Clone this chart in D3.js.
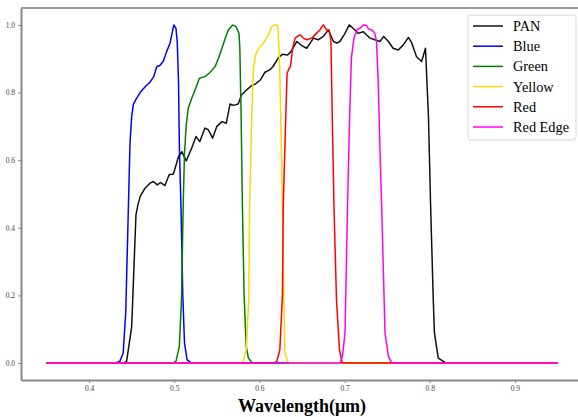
<!DOCTYPE html>
<html>
<head>
<meta charset="utf-8">
<script src="https://cdn.jsdelivr.net/npm/d3@7"></script>
<style>
  body { margin: 0; background: #fff; }
  svg { display: block; }
  .axis text { font-family: "Liberation Serif", "DejaVu Serif", serif; font-size: 7.5px; fill: #444; }
  .axis line, .axis path { stroke: #888; }
</style>
</head>
<body>
<div id="chart"></div>
<script>
// band names + colours (legend order = draw order)
const bandNames = ['PAN', 'Blue', 'Green', 'Yellow', 'Red', 'Red Edge'];
const bandColors = ['#111111', '#0000ff', '#008000', '#ffd700', '#ff0000', '#ff00ff'];

// relative spectral response, [wavelength µm, response]
const pan = [[0.35,0],[0.440,0],[0.444,0.005],[0.450,0.108],[0.455,0.438],[0.4575,0.47],[0.460,0.493],[0.4655,0.517],[0.4715,0.532],[0.4755,0.537],[0.480,0.527],[0.484,0.534],[0.489,0.525],[0.494,0.557],[0.499,0.559],[0.505,0.611],[0.509,0.625],[0.514,0.598],[0.5205,0.636],[0.5255,0.67],[0.530,0.655],[0.536,0.695],[0.540,0.69],[0.545,0.665],[0.550,0.70],[0.556,0.714],[0.561,0.709],[0.5655,0.766],[0.5695,0.762],[0.575,0.766],[0.579,0.793],[0.585,0.808],[0.591,0.821],[0.595,0.825],[0.601,0.837],[0.6065,0.860],[0.612,0.867],[0.616,0.877],[0.622,0.902],[0.627,0.913],[0.633,0.911],[0.637,0.921],[0.644,0.951],[0.6495,0.939],[0.6555,0.931],[0.6635,0.961],[0.669,0.956],[0.675,0.966],[0.681,0.985],[0.687,0.951],[0.691,0.946],[0.6945,0.951],[0.7005,0.975],[0.7055,1.0],[0.710,0.99],[0.716,0.975],[0.722,0.98],[0.726,0.970],[0.730,0.961],[0.7355,0.956],[0.7415,0.951],[0.746,0.966],[0.7515,0.951],[0.757,0.931],[0.763,0.926],[0.769,0.941],[0.775,0.963],[0.779,0.946],[0.7845,0.906],[0.7905,0.892],[0.795,0.931],[0.7985,0.73],[0.801,0.47],[0.804,0.2],[0.8055,0.09],[0.810,0.015],[0.818,0.002],[0.83,0],[0.95,0]];
const blue = [[0.35,0],[0.43,0],[0.436,0.005],[0.440,0.03],[0.443,0.15],[0.446,0.45],[0.448,0.65],[0.450,0.73],[0.452,0.765],[0.455,0.78],[0.460,0.80],[0.466,0.818],[0.472,0.832],[0.476,0.848],[0.4795,0.877],[0.483,0.88],[0.487,0.892],[0.491,0.921],[0.495,0.946],[0.4995,1.0],[0.502,0.99],[0.5035,0.95],[0.505,0.83],[0.506,0.64],[0.508,0.45],[0.510,0.2],[0.512,0.06],[0.515,0.01],[0.52,0],[0.95,0]];
const green = [[0.35,0],[0.497,0],[0.502,0.005],[0.506,0.05],[0.5085,0.19],[0.5105,0.47],[0.512,0.62],[0.514,0.704],[0.5165,0.754],[0.5205,0.783],[0.5245,0.808],[0.5295,0.842],[0.536,0.847],[0.541,0.857],[0.5455,0.87],[0.548,0.877],[0.552,0.902],[0.556,0.931],[0.56,0.961],[0.5635,0.985],[0.5685,1.0],[0.5725,0.995],[0.576,0.975],[0.577,0.931],[0.5785,0.734],[0.580,0.468],[0.582,0.2],[0.5845,0.05],[0.587,0.015],[0.591,0.002],[0.60,0],[0.95,0]];
const yellow = [[0.35,0],[0.577,0],[0.581,0.005],[0.5845,0.04],[0.5875,0.19],[0.5885,0.47],[0.591,0.734],[0.593,0.872],[0.596,0.916],[0.601,0.936],[0.6055,0.949],[0.6105,0.970],[0.6145,0.995],[0.618,1.0],[0.621,1.0],[0.622,0.98],[0.6235,0.90],[0.625,0.734],[0.627,0.468],[0.6285,0.2],[0.630,0.03],[0.633,0.005],[0.637,0],[0.95,0]];
const red = [[0.35,0],[0.616,0],[0.6205,0.005],[0.624,0.04],[0.627,0.2],[0.628,0.468],[0.631,0.734],[0.6325,0.857],[0.635,0.872],[0.6365,0.877],[0.639,0.931],[0.642,0.961],[0.6455,0.968],[0.648,0.97],[0.6515,0.961],[0.6555,0.956],[0.6615,0.961],[0.667,0.975],[0.671,0.985],[0.6735,0.995],[0.675,1.0],[0.679,0.985],[0.682,0.985],[0.684,0.951],[0.6855,0.734],[0.6875,0.468],[0.6905,0.187],[0.694,0.04],[0.697,0.002],[0.70,0],[0.95,0]];
const redEdge = [[0.35,0],[0.695,0],[0.6975,0.02],[0.7005,0.089],[0.7035,0.468],[0.706,0.734],[0.708,0.902],[0.711,0.961],[0.715,0.988],[0.718,0.99],[0.722,1.0],[0.726,0.998],[0.728,0.988],[0.732,0.985],[0.7355,0.975],[0.7375,0.951],[0.7395,0.832],[0.7415,0.636],[0.7435,0.468],[0.7475,0.089],[0.7515,0.02],[0.755,0.002],[0.76,0],[0.95,0]];

const xTicks = [0.4, 0.5, 0.6, 0.7, 0.8, 0.9];
const yTicks = [0.0, 0.2, 0.4, 0.6, 0.8, 1.0];
const xLabel = 'Wavelength(\u03bcm)';

class SpectralChart {

  constructor(_config, _series) {
    this.config = {
      parentElement: _config.parentElement,
      containerWidth: _config.containerWidth || 578,
      containerHeight: _config.containerHeight || 417,
      margin: { top: 8, bottom: 37, right: -5, left: 21 }
    }
    this.series = _series;
    this.initVis();
  }

  initVis() {
    let vis = this;

    vis.width = vis.config.containerWidth - vis.config.margin.left - vis.config.margin.right;
    vis.height = vis.config.containerHeight - vis.config.margin.top - vis.config.margin.bottom;

    vis.svg = d3.select(vis.config.parentElement).append('svg')
      .attr('width', vis.config.containerWidth)
      .attr('height', vis.config.containerHeight);

    vis.chart = vis.svg.append('g')
      .attr('transform', `translate(${vis.config.margin.left}, ${vis.config.margin.top})`);

    // matplotlib style 5% padding
    vis.xScale = d3.scaleLinear().domain([0.32, 0.98]).range([0, vis.width]);
    vis.yScale = d3.scaleLinear().domain([-0.05, 1.05]).range([vis.height, 0]);

    vis.line = d3.line()
      .x(d => vis.xScale(d[0]))
      .y(d => vis.yScale(d[1]));

    vis.xAxis = d3.axisBottom(vis.xScale).tickValues(xTicks).tickSize(3).tickSizeOuter(0).tickPadding(3)
      .tickFormat(d3.format('.1f'));
    vis.yAxis = d3.axisLeft(vis.yScale).tickValues(yTicks).tickSize(3).tickSizeOuter(0).tickPadding(3)
      .tickFormat(d3.format('.1f'));

    vis.chart.append('g')
      .attr('class', 'axis x-axis')
      .attr('transform', `translate(0, ${vis.height})`)
      .call(vis.xAxis);

    vis.chart.append('g')
      .attr('class', 'axis y-axis')
      .call(vis.yAxis);

    vis.chart.selectAll('.axis path').attr('stroke-width', 2);

    // top spine
    vis.chart.append('line')
      .attr('x1', 0).attr('x2', vis.width)
      .attr('y1', 0).attr('y2', 0)
      .attr('stroke', '#999').attr('stroke-width', 2);

    vis.svg.append('text')
      .attr('x', vis.config.margin.left + vis.width / 2)
      .attr('y', 412)
      .attr('text-anchor', 'middle')
      .style('font-family', '"Liberation Serif", serif')
      .style('font-weight', 'bold')
      .style('font-size', '18px')
      .text(xLabel);

    this.updateVis();
  }

  updateVis() {
    this.renderVis();
  }

  renderVis() {
    let vis = this;

    vis.chart.selectAll('.band')
      .data(vis.series)
      .join('path')
      .attr('class', 'band')
      .attr('fill', 'none')
      .attr('stroke', d => d.color)
      .attr('stroke-width', 1.5)
      .attr('stroke-linejoin', 'round')
      .attr('d', d => vis.line(d.values));

    // legend
    const lg = vis.svg.append('g').attr('transform', 'translate(468, 15)');
    lg.append('rect')
      .attr('width', 108).attr('height', 125)
      .attr('rx', 3)
      .attr('fill', '#fff').attr('fill-opacity', 0.8)
      .attr('stroke', '#d6d6d6');

    const rows = lg.selectAll('.row')
      .data(vis.series)
      .join('g')
      .attr('class', 'row')
      .attr('transform', (d, i) => `translate(0, ${11 + i * 20.2})`);

    rows.append('line')
      .attr('x1', 5).attr('x2', 35)
      .attr('stroke', d => d.color)
      .attr('stroke-width', 1.5);

    rows.append('text')
      .attr('x', 45).attr('y', 5)
      .style('font-family', '"Liberation Serif", serif')
      .style('font-size', '14.3px')
      .text(d => d.name);
  }
}

const seriesValues = [pan, blue, green, yellow, red, redEdge];
const series = bandNames.map((n, i) => ({ name: n, color: bandColors[i], values: seriesValues[i] }));

new SpectralChart({ parentElement: '#chart', containerWidth: 578, containerHeight: 417 }, series);
</script>
</body>
</html>
